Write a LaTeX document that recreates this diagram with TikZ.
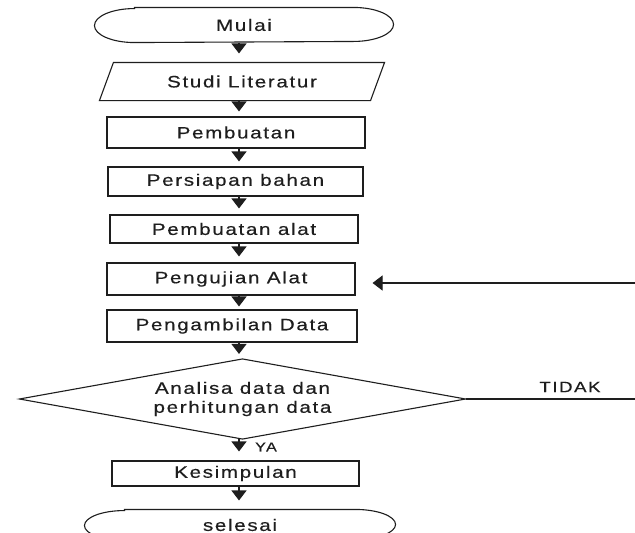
\documentclass[tikz,border=0pt]{standalone}
\usepackage{fontspec}
\setmainfont[FakeStretch=1.25,LetterSpace=10,FakeBold=0.4]{Liberation Sans}
\usetikzlibrary{arrows.meta}
\definecolor{ink}{HTML}{1E1E1E}
\begin{document}
\begin{tikzpicture}[x=1pt,y=-1pt,
  line width=1.1pt, draw=ink,
  lbl/.style={inner sep=0pt, text=ink, font=\fontsize{16.5}{19}\selectfont},
  holder/.style={lbl, draw=none, minimum width=#1},
  box/.style={lbl, draw=ink, minimum width=#1},
  arr/.style={draw=ink, line width=1.1pt, -{Triangle[width=15pt,length=10pt]}}]
\useasboundingbox (0,0) rectangle (635,533);
\fill[white] (0,0) rectangle (635,533);
\coordinate (X) at (239,0);

% terminal Mulai
\node[holder=298pt, minimum height=34pt] (mulai) at (244,25) {Mulai};
\draw ([xshift=40pt]mulai.north west) -- ([xshift=-40pt]mulai.north east)
  arc[start angle=90,end angle=-90,x radius=40pt,y radius=17pt]
  -- ([xshift=40pt]mulai.south west)
  arc[start angle=270,end angle=90,x radius=40pt,y radius=17pt] -- cycle;

% parallelogram Studi Literatur
\node[holder=284pt, minimum height=37pt] (studi) at (242,81.5) {Studi Literatur};
\draw (studi.south west) -- ([xshift=-14pt]studi.south east) -- (studi.north east)
  -- ([xshift=14pt]studi.north west) -- cycle;

\node[box=258pt, minimum height=31pt] (pemb) at (236,132.5) {Pembuatan};
\node[box=255pt, minimum height=29pt] (persi) at (235.5,181.5) {Persiapan bahan};
\node[box=248pt, minimum height=28pt] (alat) at (234,229) {Pembuatan alat};
\node[box=248pt, minimum height=32pt] (uji) at (231,279) {Pengujian Alat};
\node[box=250pt, minimum height=32pt] (ambil) at (232,326) {Pengambilan Data};

% decision
\node[holder=445pt, minimum height=79pt, align=center] (dec) at (242.5,399)
  {Analisa data dan\\perhitungan data};
\draw (dec.west) -- (dec.north) -- (dec.east) -- (dec.south) -- cycle;

\node[box=247pt, minimum height=25pt] (kes) at (235.5,473.5) {Kesimpulan};

% terminal selesai
\node[holder=310pt, minimum height=30pt] (sel) at (240,525) {selesai};
\draw ([xshift=40pt]sel.north west) -- ([xshift=-40pt]sel.north east)
  arc[start angle=90,end angle=-90,x radius=40pt,y radius=15pt]
  -- ([xshift=40pt]sel.south west)
  arc[start angle=270,end angle=90,x radius=40pt,y radius=15pt] -- cycle;

% vertical arrows
\draw[arr, shorten >=9pt] (mulai.south -| X) -- (studi.north -| X);
\draw[arr, shorten >=5pt] (studi.south -| X) -- (pemb.north -| X);
\draw[arr, shorten >=5pt] (pemb.south -| X) -- (persi.north -| X);
\draw[arr, shorten >=6pt] (persi.south -| X) -- (alat.north -| X);
\draw[arr, shorten >=6pt] (alat.south -| X) -- (uji.north -| X);
\draw[arr, shorten >=3pt] (uji.south -| X) -- (ambil.north -| X);
\draw[arr, shorten >=5pt] (ambil.south -| X) -- (dec.north -| X);
\draw[arr, shorten >=9pt] (dec.south -| X) -- (kes.north -| X);
\draw[arr, shorten >=9pt] (kes.south -| X) -- (sel.north -| X);

% labels
\node[lbl, font=\fontsize{13}{15}\selectfont] (ya) at (266,447) {YA};
\node[lbl, font=\fontsize{15}{18}\selectfont] (tidak) at (570,387) {TIDAK};

% loop back (TIDAK)
\coordinate (t1) at (635,399);
\coordinate (t2) at (635,283);
\draw (dec.east) -- (t1);
\draw[arr, shorten >=17pt] (t2) -- ([yshift=-4pt]uji.east);
\end{tikzpicture}
\end{document}
